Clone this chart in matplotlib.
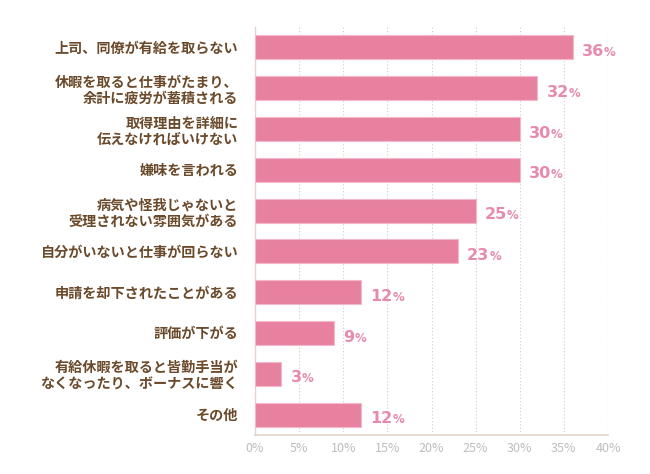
import matplotlib
matplotlib.use("Agg")
import matplotlib.pyplot as plt
from matplotlib.ticker import MultipleLocator, FuncFormatter

plt.rcParams['font.family'] = ['Noto Sans CJK JP', 'DejaVu Sans']

# data (top to bottom)
categories = [
    "上司、同僚が有給を取らない",
    "休暇を取ると仕事がたまり、\n余計に疲労が蓄積される",
    "取得理由を詳細に\n伝えなければいけない",
    "嫌味を言われる",
    "病気や怪我じゃないと\n受理されない雰囲気がある",
    "自分がいないと仕事が回らない",
    "申請を却下されたことがある",
    "評価が下がる",
    "有給休暇を取ると皆勤手当が\nなくなったり、ボーナスに響く",
    "その他",
]
values = [36, 32, 30, 30, 25, 23, 12, 9, 3, 12]

BAR_COLOR = "#E8819F"
LABEL_COLOR = "#6B4A2B"
VALUE_COLOR = "#E68BAE"
TICK_COLOR = "#BDBDBD"
GRID_COLOR = "#DCCBB9"

fig = plt.figure(figsize=(6.5, 4.74), dpi=100)
ax = fig.add_axes([0.3923, 0.0823, 0.5431, 0.8607])

ypos = list(range(len(categories)))
ax.barh(ypos, values, height=0.59, color=BAR_COLOR, edgecolor="#F3B9CB", linewidth=0.8, zorder=3)

ax.set_xlim(0, 40)
ax.set_ylim(len(categories) - 0.5, -0.5)
ax.xaxis.set_major_locator(MultipleLocator(5))
ax.xaxis.set_major_formatter(FuncFormatter(lambda v, p: f"{int(v)}%"))
ax.tick_params(axis="x", length=0, colors=TICK_COLOR, labelsize=9, pad=5)
ax.tick_params(axis="y", length=0, pad=12)
ax.set_yticks(ypos)
ax.set_yticklabels(categories, fontsize=10.2, color=LABEL_COLOR, fontweight="bold",
                   linespacing=1.2)

ax.grid(axis="x", linestyle=(0, (1, 2)), color=GRID_COLOR, linewidth=0.8, zorder=0)
ax.axvline(40, linestyle=(0, (1, 2)), color=GRID_COLOR, linewidth=0.8, zorder=0)
for side in ["top", "right"]:
    ax.spines[side].set_visible(False)
ax.spines["left"].set_color("#E2D6CC")
ax.spines["bottom"].set_color("#E2D6CC")
ax.spines["left"].set_linewidth(1.0)
ax.spines["bottom"].set_linewidth(1.2)

for y, v in zip(ypos, values):
    num = ax.annotate(str(v), xy=(v, y), xytext=(6.5, -3), textcoords="offset points",
                      ha="left", va="center", fontsize=11.5, fontweight="bold",
                      color=VALUE_COLOR, family=["DejaVu Sans"])
    ax.annotate("%", xy=(1, 0), xycoords=num, xytext=(0, 0), textcoords="offset points",
                ha="left", va="bottom", fontsize=8.5, fontweight="bold",
                color=VALUE_COLOR, family=["DejaVu Sans"])

fig.savefig("out.png", dpi=100, facecolor="white")
